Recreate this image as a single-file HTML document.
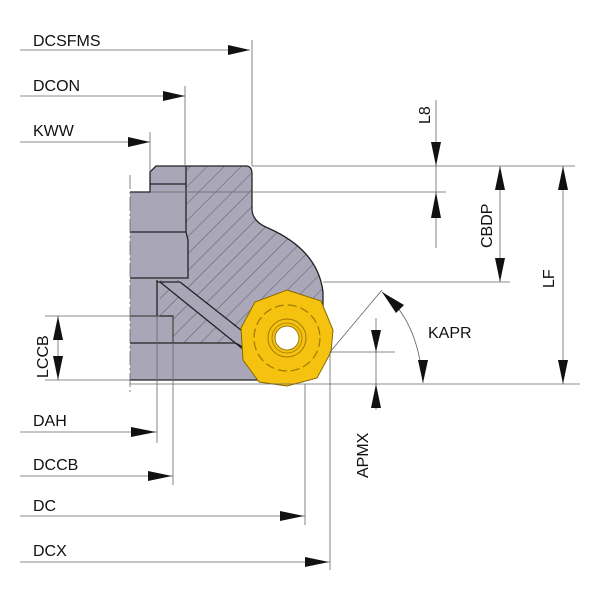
<!DOCTYPE html>
<html><head><style>html,body{margin:0;padding:0;background:#fff}svg{display:block}</style></head><body>
<svg width="600" height="600" viewBox="0 0 600 600" xmlns="http://www.w3.org/2000/svg" font-family="Liberation Sans, sans-serif">
<defs>
<pattern id="h" width="12" height="12" patternUnits="userSpaceOnUse" patternTransform="rotate(45)">
<rect width="12" height="12" fill="#aaa8b8"/><line x1="0" y1="0" x2="0" y2="12" stroke="#4a4858" stroke-width="0.8"/>
</pattern>
</defs>
<!-- body -->
<path d="M130,192 L150,192 L150,172 L156,166 L246,166 Q252,166 252,174 L252,210 Q253,222 268,228 Q318,250 323,292 L323,340 L262,380 L130,380 Z" fill="#a9a7b7"/>
<path d="M186,166 L246,166 Q252,166 252,174 L252,210 Q253,222 268,228 Q318,250 323,292 L323,340 L250,343 L173,343 L173,316 L160,316 L160,280 L188,280 L188,240 L186,232 Z" fill="url(#h)"/>
<path d="M160,282 L180,282 L246,336 L244,350 Z" fill="#a9a7b7"/>
<g fill="none" stroke="#222" stroke-width="1.3">
<path d="M130,192 L150,192 L150,172 L156,166 L246,166 Q252,166 252,174 L252,210 Q253,222 268,228 Q318,250 323,292 L323,330"/>
<path d="M130,380 L265,380"/>
<path d="M150,184 L186,184 M130,232 L186,232 L188,240 L188,278 L130,278 M186,166 L186,232"/>
<path d="M157,280 L157,316 L130,316 M157,316 L173,316 L173,343 L130,343 M173,343 L235,343 Q242,345 246,352"/>
<path d="M160,282 L244,350 M180,282 L246,334 M157,282 L180,282"/>
</g>
<!-- insert -->
<g transform="translate(287,338)">
<polygon points="0,-48 34,-37 46,-8 44,14 30,40 0,48 -28,44 -44,22 -46,-10 -32,-36" fill="#f4c20f" stroke="#8a6a00" stroke-width="1"/>
<circle r="33" fill="none" stroke="#a07a00" stroke-width="1.2" stroke-dasharray="9 4"/>
<circle r="19" fill="none" stroke="#a07a00" stroke-width="1"/>
<circle r="15" fill="none" stroke="#a07a00" stroke-width="0.8"/>
<circle r="12" fill="#fff" stroke="#a07a00" stroke-width="1"/>
</g>
<!-- thin lines -->
<g stroke="#666" stroke-width="0.8" fill="none">
<path d="M20,50 L250,50 M252,40 L252,166"/>
<path d="M20,96 L185,96 M185,86 L185,166"/>
<path d="M20,142 L150,142 M150,132 L150,172"/>
<path d="M252,166 L575,166 M150,192 L446,192 M323,282 L510,282"/>
<path d="M436,100 L436,248 M500,166 L500,282 M563,166 L563,384"/>
<path d="M130,384 L580,384"/>
<path d="M330,352 L382,290 M330,352 L395,352 M376,318 L376,410"/>
<path d="M382,292 Q418,320 423,383"/>
<path d="M45,316 L160,316 M45,380 L130,380 M58,316 L58,380"/>
<path d="M20,432 L157,432 M157,316 L157,443"/>
<path d="M20,476 L173,476 M173,316 L173,485"/>
<path d="M20,516 L305,516 M305,384 L305,525"/>
<path d="M20,562 L330,562 M330,352 L330,570"/>
<path d="M130,175 L130,395" stroke-dasharray="14 3 2 3"/>
</g>
<!-- arrows -->
<g fill="#111">
<polygon points="250,50 228,45 228,55"/>
<polygon points="185,96 163,91 163,101"/>
<polygon points="150,142 128,137 128,147"/>
<polygon points="436,166 431,142 441,142"/>
<polygon points="436,192 431,218 441,218"/>
<polygon points="500,166 495,190 505,190"/>
<polygon points="500,282 495,258 505,258"/>
<polygon points="563,166 558,190 568,190"/>
<polygon points="563,384 558,360 568,360"/>
<polygon points="58,316 53,340 63,340"/>
<polygon points="58,380 53,356 63,356"/>
<polygon points="376,352 371,330 381,330"/>
<polygon points="376,384 371,408 381,408"/>
<polygon points="382,292 404,305 396,313"/>
<polygon points="423,383 418,360 428,360"/>
<polygon points="156,432 131,427 131,437"/>
<polygon points="172,476 148,471 148,481"/>
<polygon points="304,516 280,511 280,521"/>
<polygon points="329,562 305,557 305,567"/>
</g>
<g font-size="16" fill="#111">
<text x="33" y="46">DCSFMS</text>
<text x="33" y="91">DCON</text>
<text x="33" y="136">KWW</text>
<text x="33" y="426">DAH</text>
<text x="33" y="470">DCCB</text>
<text x="33" y="511">DC</text>
<text x="33" y="556">DCX</text>
<text x="428" y="338">KAPR</text>
<text transform="translate(430,124) rotate(-90)">L8</text>
<text transform="translate(492,248) rotate(-90)">CBDP</text>
<text transform="translate(554,288) rotate(-90)">LF</text>
<text transform="translate(48,378) rotate(-90)">LCCB</text>
<text transform="translate(368,478) rotate(-90)">APMX</text>
</g>
</svg>
</body></html>
